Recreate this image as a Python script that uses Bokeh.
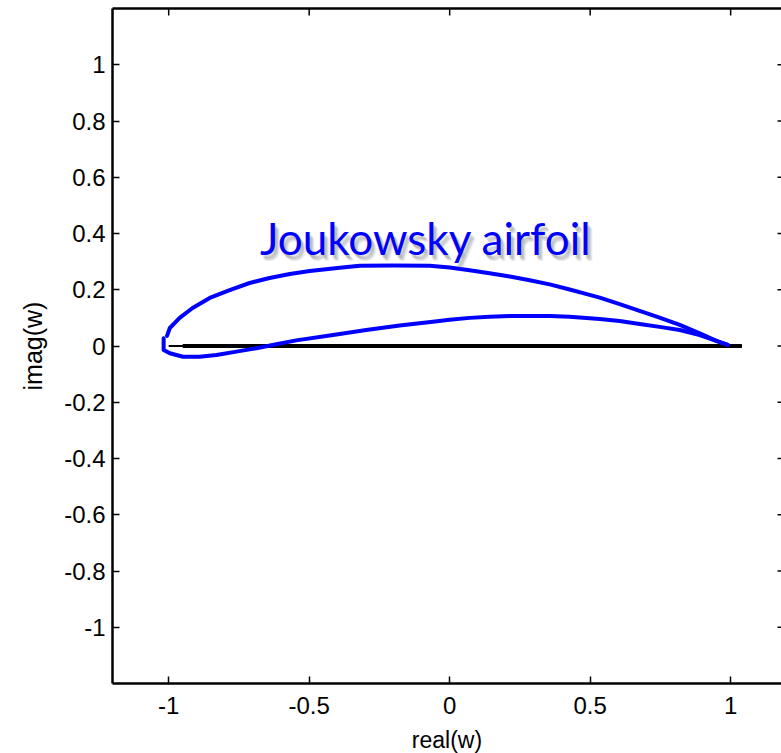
from bokeh.plotting import figure
from bokeh.models import LinearAxis, FixedTicker, Range1d
from bokeh.core.properties import value
from bokeh.embed import file_html
from bokeh.resources import INLINE

# ---- data ----
upper_x = [-1.006, -0.996, -0.961, -0.915, -0.854, -0.783, -0.712, -0.641, -0.569, -0.498,
           -0.391, -0.320, -0.200, -0.071, 0.000, 0.071, 0.142, 0.214, 0.285, 0.356,
           0.427, 0.498, 0.534, 0.605, 0.676, 0.747, 0.819, 0.890, 0.949, 0.990]
upper_y = [0.036, 0.064, 0.100, 0.135, 0.171, 0.199, 0.224, 0.242, 0.256, 0.267,
           0.278, 0.285, 0.286, 0.285, 0.279, 0.269, 0.259, 0.247, 0.234, 0.219,
           0.201, 0.182, 0.172, 0.149, 0.125, 0.101, 0.075, 0.045, 0.018, 0.004]

lower_x = [0.990, 0.949, 0.890, 0.819, 0.747, 0.676, 0.605, 0.534, 0.427, 0.356,
           0.214, 0.142, 0.071, 0.000, -0.060, -0.178, -0.297, -0.415, -0.546, -0.617,
           -0.688, -0.759, -0.830, -0.890, -0.949, -0.996, -1.018, -1.018]
lower_y = [0.004, 0.018, 0.039, 0.057, 0.068, 0.078, 0.089, 0.096, 0.104, 0.107,
           0.107, 0.104, 0.100, 0.093, 0.086, 0.073, 0.057, 0.039, 0.020, 0.006,
           -0.008, -0.020, -0.032, -0.038, -0.038, -0.026, -0.014, 0.028]

chord_thin_x = [-1.0, 1.04]
chord_thick_x = [-0.95, 1.04]
chord_y = [0.0, 0.0]

x_ticks = [-1, -0.5, 0, 0.5, 1]
x_tick_labels = ["-1", "-0.5", "0", "0.5", "1"]
y_ticks = [-1, -0.8, -0.6, -0.4, -0.2, 0, 0.2, 0.4, 0.6, 0.8, 1]
y_tick_labels = ["-1", "-0.8", "-0.6", "-0.4", "-0.2", "0", "0.2", "0.4", "0.6", "0.8", "1"]

title_text = "Joukowsky airfoil"
title_x = [-0.085]
title_y = [0.383]

x_label = "real(w)"
y_label = "imag(w)"

# ---- figure ----
X0, X1 = -1.2, 1.181
Y0, Y1 = -1.2, 1.2
p = figure(output_backend="svg", toolbar_location=None,
           frame_width=669, frame_height=675,
           x_range=Range1d(X0, X1), y_range=Range1d(Y0, Y1),
           min_border_left=112, min_border_right=0, min_border_top=8, min_border_bottom=70)
p.outline_line_color = None
p.xgrid.visible = False
p.ygrid.visible = False
p.background_fill_color = "white"
p.border_fill_color = "white"

FONT = "Liberation Sans"
FS = "24px"

def style_axis(ax, ticks, labels):
    ax.ticker = FixedTicker(ticks=ticks)
    ax.major_label_overrides = {t: l for t, l in zip(ticks, labels)}
    ax.major_tick_in = 7
    ax.major_tick_out = 0
    ax.major_tick_line_width = 1.5
    ax.major_tick_line_color = "black"
    ax.minor_tick_line_color = None
    ax.axis_line_color = "black"
    ax.axis_line_width = 2.5
    ax.major_label_text_font = FONT
    ax.major_label_text_font_size = FS
    ax.major_label_text_font_style = "normal"
    ax.major_label_text_color = "black"
    ax.axis_label_text_font = FONT
    ax.axis_label_text_font_style = "normal"
    ax.axis_label_text_color = "black"

xa = p.xaxis[0]
style_axis(xa, x_ticks, x_tick_labels)
xa.major_label_standoff = 13
xa.axis_label = x_label
xa.axis_label_text_font_size = "23px"
xa.axis_label_standoff = 10

ya = p.yaxis[0]
style_axis(ya, y_ticks, y_tick_labels)
ya.major_label_standoff = 7
ya.axis_label = y_label
ya.axis_label_text_font_size = "25px"
ya.axis_label_standoff = 14

# top border line (no ticks/labels on the axis itself)
top = LinearAxis(ticker=FixedTicker(ticks=[]))
top.axis_line_color = "black"
top.axis_line_width = 2.5
top.major_tick_line_color = None
top.minor_tick_line_color = None
top.major_label_standoff = 0
p.add_layout(top, "above")

# inward ticks on top and right edges (tick length is a style constant)
TX = 7 / 281.0
TXR = 4 / 281.0
p.segment(x0=x_ticks, y0=[Y1] * len(x_ticks), x1=x_ticks, y1=[Y1 - TX] * len(x_ticks),
          line_color="black", line_width=1.5)
p.segment(x0=[X1] * len(y_ticks), y0=y_ticks, x1=[X1 - TXR] * len(y_ticks), y1=y_ticks,
          line_color="black", line_width=1.5)

# chord line
p.line(chord_thin_x, chord_y, line_color="black", line_width=2)
p.line(chord_thick_x, chord_y, line_color="black", line_width=4)

# airfoil
p.line(upper_x, upper_y, line_color="#0000ff", line_width=4, line_join="round", line_cap="round")
p.line(lower_x, lower_y, line_color="#0000ff", line_width=4, line_join="round", line_cap="round")

# title with soft shadow
for dx, dy, a in [(2, 3, 0.16), (3, 4, 0.16), (4, 5, 0.14), (5, 6, 0.10), (3, 6, 0.08)]:
    p.text(title_x, title_y, text=[title_text], text_font=value("Lato"),
           text_font_size="44px", text_align="center", text_baseline="alphabetic",
           text_color="#707070", text_alpha=a, x_offset=dx, y_offset=dy)
p.text(title_x, title_y, text=[title_text], text_font=value("Lato"),
       text_font_size="44px", text_align="center", text_baseline="alphabetic",
       text_color="#0000ff")

open("out.html", "w").write(file_html(p, INLINE))
